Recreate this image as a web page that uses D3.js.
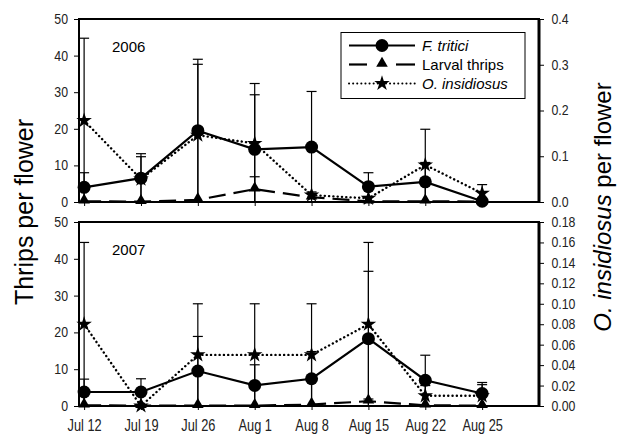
<!DOCTYPE html>
<html>
<head>
<meta charset="utf-8">
<script src="https://cdn.jsdelivr.net/npm/d3@7"></script>
<style>
body { margin: 0; background: #fff; }
svg text { font-family: "Liberation Sans", Arial, sans-serif; fill: #000; }
.tick text { font-family: "Liberation Sans", Arial, sans-serif; fill: #222; }
</style>
</head>
<body>
<div class="board"></div>
<script>
// globals
var width = 618;
var height = 438;

var dates = ["Jul 12", "Jul 19", "Jul 26", "Aug 1", "Aug 8", "Aug 15", "Aug 22", "Aug 25"];

// 2006 (thrips on left axis, O. insidiosus on right axis)
var tritici2006 = [4.0, 6.5, 19.5, 14.4, 15.0, 4.2, 5.5, 0.2];
var triticiErr2006 = [4.0, 6.7, 19.5, 14.9, 15.2, 3.8, 5.3, 0];
var larval2006 = [0.2, 0.1, 0.6, 3.5, 1.3, 0.2, 0.2, 0.1];
var larvalErr2006 = [0, 0, 0, 3.4, 0, 0, 0, 0];
var orius2006 = [0.178, 0.05, 0.146, 0.128, 0.015, 0.008, 0.081, 0.019];
var oriusErr2006 = [0.18, 0.049, 0.155, 0.131, 0.007, 0.004, 0.078, 0.019];

// 2007
var tritici2007 = [3.8, 3.8, 9.5, 5.6, 7.4, 18.3, 7.0, 3.4];
var triticiErr2007 = [3.5, 3.6, 9.4, 5.6, 7.4, 18.3, 6.8, 2.4];
var larval2007 = [0.2, 0.1, 0.1, 0.1, 0.4, 1.3, 0.2, 0.1];
var larvalErr2007 = [0, 0, 0, 0, 0, 0.6, 0, 0];
var orius2007 = [0.08, 0.0, 0.05, 0.05, 0.05, 0.08, 0.01, 0.01];
var oriusErr2007 = [0.08, 0, 0.05, 0.05, 0.05, 0.08, 0.01, 0.013];

var leftTicks = [0, 10, 20, 30, 40, 50];
var rightTicks2006 = [0, 0.1, 0.2, 0.3, 0.4];
var rightTicks2007 = [0, 0.02, 0.04, 0.06, 0.08, 0.10, 0.12, 0.14, 0.16, 0.18];

var legendLabels = ["F. tritici", "Larval thrips", "O. insidiosus"];

var panels = [
  { year: "2006", top: 19, bottom: 202, rMax: 0.4, rTicks: rightTicks2006, rFmt: ".1f",
    tritici: tritici2006, triticiErr: triticiErr2006, larval: larval2006, larvalErr: larvalErr2006,
    orius: orius2006, oriusErr: oriusErr2006, labels: false },
  { year: "2007", top: 222, bottom: 406, rMax: 0.18, rTicks: rightTicks2007, rFmt: ".2f",
    tritici: tritici2007, triticiErr: triticiErr2007, larval: larval2007, larvalErr: larvalErr2007,
    orius: orius2007, oriusErr: oriusErr2007, labels: true }
];

var left = 79, right = 539;
var x = d3.scaleLinear().domain([-0.09, 8]).range([left, right]);

var svg = d3.select('.board').append('svg')
  .attr('width', width)
  .attr('height', height);

var star = d3.symbol().type(d3.symbolStar).size(75);
var tri = d3.symbol().type(d3.symbolTriangle).size(58);

// squeeze tick labels sideways so they look like the narrow font of the original
var narrow = function(sel, k, size) {
  sel.selectAll('.tick text').each(function() {
    var t = d3.select(this);
    var tx = +t.attr('x') || 0;
    t.attr('font-size', size).attr('x', tx / k).attr('transform', 'scale(' + k + ',1)');
  });
};

var drawErrors = function(g, vals, errs, y) {
  vals.forEach(function(v, i) {
    var e = errs[i];
    if (!e) return;
    var lo = Math.max(0, v - e), hi = v + e;
    g.append('line')
      .attr('x1', x(i)).attr('x2', x(i))
      .attr('y1', y(lo)).attr('y2', y(hi))
      .attr('stroke', '#000').attr('stroke-width', 1.2);
    g.append('line')
      .attr('x1', x(i) - 5).attr('x2', x(i) + 5)
      .attr('y1', y(hi)).attr('y2', y(hi))
      .attr('stroke', '#000').attr('stroke-width', 1.2);
  });
};

var drawPanel = function(p) {
  var g = svg.append('g');
  var yL = d3.scaleLinear().domain([0, 50]).range([p.bottom, p.top]);
  var yR = d3.scaleLinear().domain([0, p.rMax]).range([p.bottom, p.top]);

  // axes
  g.append('g').attr('transform', 'translate(' + left + ',0)')
    .call(d3.axisLeft(yL).tickValues(leftTicks).tickSize(5).tickPadding(6))
    .call(function(s) { s.select('.domain').remove(); narrow(s, 0.88, 14); });
  g.append('g').attr('transform', 'translate(' + right + ',0)')
    .call(d3.axisRight(yR).tickValues(p.rTicks).tickFormat(d3.format(p.rFmt)).tickSize(5).tickPadding(7.5))
    .call(function(s) { s.select('.domain').remove(); narrow(s, 0.88, 14); });
  g.append('g').attr('transform', 'translate(0,' + p.bottom + ')')
    .call(d3.axisBottom(x).tickValues(d3.range(dates.length))
      .tickFormat(function(i) { return p.labels ? dates[i] : ''; })
      .tickSize(4).tickPadding(10))
    .call(function(s) { s.select('.domain').remove(); narrow(s, 0.8, 16); });

  // frame
  g.append('rect')
    .attr('x', left).attr('y', p.top)
    .attr('width', right - left).attr('height', p.bottom - p.top)
    .attr('fill', 'none').attr('stroke', '#000').attr('stroke-width', 2);
  g.append('line')
    .attr('x1', right).attr('x2', right).attr('y1', p.top).attr('y2', p.bottom)
    .attr('stroke', '#000').attr('stroke-width', 3);

  g.append('text')
    .attr('x', left + 33).attr('y', p.top + 33)
    .attr('font-size', 15)
    .text(p.year);

  // error bars
  drawErrors(g, p.orius, p.oriusErr, yR);
  drawErrors(g, p.larval, p.larvalErr, yL);
  drawErrors(g, p.tritici, p.triticiErr, yL);

  // lines
  var lineL = d3.line().x(function(d, i) { return x(i); }).y(function(d) { return yL(d); });
  var lineR = d3.line().x(function(d, i) { return x(i); }).y(function(d) { return yR(d); });

  g.append('path').datum(p.orius).attr('d', lineR)
    .attr('fill', 'none').attr('stroke', '#000').attr('stroke-width', 2.4)
    .attr('stroke-linecap', 'round').attr('stroke-dasharray', '0.1 4.2');
  g.append('path').datum(p.larval).attr('d', lineL)
    .attr('fill', 'none').attr('stroke', '#000').attr('stroke-width', 2.2)
    .attr('stroke-dasharray', '17 8');
  g.append('path').datum(p.tritici).attr('d', lineL)
    .attr('fill', 'none').attr('stroke', '#000').attr('stroke-width', 2.2);

  // markers
  g.selectAll('.star').data(p.orius).enter().append('path')
    .attr('class', 'star')
    .attr('d', star)
    .attr('transform', function(d, i) { return 'translate(' + x(i) + ',' + yR(d) + ')'; })
    .attr('fill', '#000');
  g.selectAll('.tri').data(p.larval).enter().append('path')
    .attr('class', 'tri')
    .attr('d', tri)
    .attr('transform', function(d, i) { return 'translate(' + x(i) + ',' + (yL(d) - 1) + ')'; })
    .attr('fill', '#000');
  g.selectAll('.dot').data(p.tritici).enter().append('circle')
    .attr('class', 'dot')
    .attr('cx', function(d, i) { return x(i); })
    .attr('cy', function(d) { return yL(d); })
    .attr('r', 6.5)
    .attr('fill', '#000');
};

panels.forEach(drawPanel);

// legend
var lg = svg.append('g');
lg.append('rect').attr('x', 341).attr('y', 32.5).attr('width', 184).attr('height', 66)
  .attr('fill', '#fff').attr('stroke', '#000').attr('stroke-width', 1);
var rows = [45.5, 64.5, 83.5];
legendLabels.forEach(function(label, i) {
  var ly = rows[i];
  if (i === 0) {
    lg.append('line').attr('x1', 349).attr('x2', 415).attr('y1', ly).attr('y2', ly)
      .attr('stroke', '#000').attr('stroke-width', 2.2);
    lg.append('circle').attr('cx', 382).attr('cy', ly).attr('r', 6.5).attr('fill', '#000');
  }
  if (i === 1) {
    [[349, 367], [396, 415]].forEach(function(seg) {
      lg.append('line').attr('x1', seg[0]).attr('x2', seg[1]).attr('y1', ly).attr('y2', ly)
        .attr('stroke', '#000').attr('stroke-width', 2.2);
    });
    lg.append('path').attr('d', tri).attr('transform', 'translate(382,' + (ly - 1) + ')').attr('fill', '#000');
  }
  if (i === 2) {
    lg.append('line').attr('x1', 349).attr('x2', 415).attr('y1', ly).attr('y2', ly)
      .attr('stroke', '#000').attr('stroke-width', 2)
      .attr('stroke-dasharray', '0.1 4').attr('stroke-linecap', 'round');
    lg.append('path').attr('d', star).attr('transform', 'translate(382,' + ly + ')').attr('fill', '#000');
  }
  lg.append('text').attr('x', 422).attr('y', ly + 5.5).attr('font-size', 15)
    .attr('font-style', i === 1 ? 'normal' : 'italic')
    .text(label);
});

// axis titles
svg.append('text')
  .attr('transform', 'translate(33,212) rotate(-90)')
  .attr('text-anchor', 'middle')
  .attr('font-size', 25)
  .text('Thrips per flower');

var rt = svg.append('text')
  .attr('transform', 'translate(611,207) rotate(-90)')
  .attr('text-anchor', 'middle')
  .attr('font-size', 24);
rt.append('tspan').attr('font-style', 'italic').text('O. insidiosus');
rt.append('tspan').text(' per flower');
</script>
</body>
</html>
